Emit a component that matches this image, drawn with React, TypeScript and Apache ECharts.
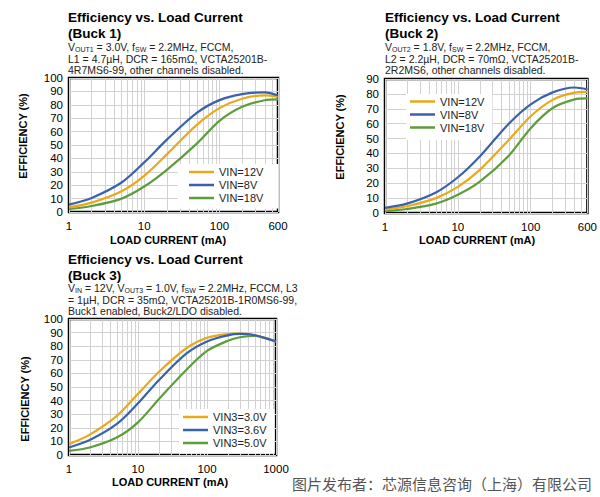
import React, { useEffect, useRef } from 'react';
import * as echarts from 'echarts';

const FONT = '"Liberation Sans", Arial, Helvetica, sans-serif';
const YELLOW = '#E9A91B';
const BLUE = '#3A62AC';
const GREEN = '#5C9D3C';
const GRID = '#d2d2d2';

// Buck 1
const buck1Load = [1, 2, 5, 10, 20, 50, 100, 200, 400, 600];
const buck1Vin12 = [3.5, 7, 15.5, 27, 43, 65, 77.5, 84.5, 87, 86];
const buck1Vin8 = [5.5, 10.5, 22, 37, 54, 74, 83.5, 88, 89.3, 87];
const buck1Vin18 = [2.3, 4.5, 10, 19, 31.5, 51, 68, 78.5, 83.4, 84];

// Buck 2
const buck2Load = [1, 2, 5, 10, 20, 50, 100, 200, 400, 600];
const buck2Vin12 = [2.2, 4.5, 10, 17.5, 29, 49, 65, 76, 80.8, 81.3];
const buck2Vin8 = [3.5, 6.3, 13.8, 24, 38, 60, 73, 81, 84.3, 83];
const buck2Vin18 = [1.2, 2.7, 6.3, 12.2, 21, 38.5, 57, 70.5, 76.3, 77];

// Buck 3
const buck3Load = [1, 2, 5, 10, 20, 50, 100, 200, 300, 500, 1000];
const buck3Vin30 = [8, 15, 29, 45, 61, 78.5, 86.2, 88.9, 89.2, 88, 83.5];
const buck3Vin36 = [5.5, 11, 23, 38, 55, 74.5, 83.5, 88, 89, 88, 83.5];
const buck3Vin50 = [3, 5.5, 13, 24, 41, 62.5, 76.5, 84, 86.6, 87.5, 83.5];

const legendBuck12 = ['VIN=12V', 'VIN=8V', 'VIN=18V'];
const legendBuck3 = ['VIN3=3.0V', 'VIN3=3.6V', 'VIN3=5.0V'];

// minor log grid positions
const minorGrid600 = [2, 3, 4, 5, 6, 7, 8, 9, 20, 30, 40, 50, 60, 70, 80, 90, 200, 300, 400, 500];
const minorGrid1000 = [2, 3, 4, 5, 6, 7, 8, 9, 20, 30, 40, 50, 60, 70, 80, 90, 200, 300, 400, 500, 600, 700, 800, 900];

const pairs = (xs: number[], ys: number[]) => xs.map((x, i) => [x, ys[i]]);

function curve(name: string, color: string, idx: number, xs: number[], ys: number[]) {
  return {
    type: 'line',
    name,
    xAxisIndex: idx,
    yAxisIndex: idx,
    data: pairs(xs, ys),
    smooth: 0.3,
    symbol: 'none',
    z: 3,
    lineStyle: { color, width: 2.2 },
    itemStyle: { color },
  };
}

function gridSeries(idx: number, vals: number[]) {
  return {
    type: 'line',
    name: 'grid' + idx,
    xAxisIndex: idx,
    yAxisIndex: idx,
    data: [],
    z: 1,
    silent: true,
    markLine: {
      silent: true,
      z: 1,
      symbol: ['none', 'none'],
      label: { show: false },
      lineStyle: { color: GRID, width: 1, type: 'solid' },
      emphasis: { disabled: true },
      data: vals.map((v) => ({ xAxis: v })),
    },
  };
}

function xAxis(idx: number, max: number) {
  return {
    type: 'log',
    logBase: 10,
    gridIndex: idx,
    min: 1,
    max,
    axisLine: { show: false },
    axisTick: { show: false },
    axisLabel: {
      color: '#000',
      fontSize: 11.5,
      fontFamily: FONT,
      margin: 8,
      formatter: (v: number) => String(Math.round(v)),
    },
    splitLine: { show: true, lineStyle: { color: GRID, width: 1 } },
  };
}

function yAxis(idx: number, max: number) {
  return {
    type: 'value',
    gridIndex: idx,
    min: 0,
    max,
    interval: 10,
    axisLine: { show: false },
    axisTick: { show: false },
    axisLabel: { color: '#000', fontSize: 11.5, fontFamily: FONT, margin: 6 },
    splitLine: { show: true, lineStyle: { color: GRID, width: 1 } },
  };
}

function legend(data: string[], left: number, top: number, padding: number[]) {
  return {
    data,
    orient: 'vertical',
    left,
    top,
    padding,
    itemGap: 0,
    itemWidth: 25,
    itemHeight: 2.5,
    icon: 'rect',
    selectedMode: false,
    z: 10,
    backgroundColor: '#fff',
    textStyle: { fontSize: 11, color: '#222', fontFamily: FONT, lineHeight: 13 },
  };
}

const SUB = { fontSize: 7, lineHeight: 6, verticalAlign: 'bottom', fontFamily: FONT, fill: '#222' };

function titleText(x: number, y: number, text: string) {
  return {
    type: 'text',
    x,
    y,
    style: {
      text,
      fontSize: 13.5,
      fontWeight: 'bold',
      fontFamily: FONT,
      fill: '#000',
      lineHeight: 16,
      align: 'left',
      verticalAlign: 'top',
    },
  };
}

function subText(x: number, y: number, text: string) {
  return {
    type: 'text',
    x,
    y,
    style: {
      text,
      fontSize: 10.5,
      fontFamily: FONT,
      fill: '#222',
      lineHeight: 11.5,
      align: 'left',
      verticalAlign: 'top',
      rich: { s: SUB },
    },
  };
}

function yName(x: number, y: number) {
  return {
    type: 'text',
    x,
    y,
    rotation: Math.PI / 2,
    style: {
      text: 'EFFICIENCY (%)',
      fontSize: 11,
      fontWeight: 'bold',
      fontFamily: FONT,
      fill: '#000',
      align: 'center',
      verticalAlign: 'middle',
    },
  };
}

function xName(x: number, y: number) {
  return {
    type: 'text',
    x,
    y,
    style: {
      text: 'LOAD CURRENT (mA)',
      fontSize: 11,
      fontWeight: 'bold',
      fontFamily: FONT,
      fill: '#000',
      align: 'center',
      verticalAlign: 'middle',
    },
  };
}

export default function App() {
  const ref = useRef<HTMLDivElement>(null);
  useEffect(() => {
    document.body.style.margin = '0';
    if (!ref.current) return;
    const chart = echarts.init(ref.current, undefined, { renderer: 'svg' });
    const gridBase = { show: true, borderColor: '#000', borderWidth: 2.5, backgroundColor: 'transparent', containLabel: false };
    chart.setOption({
      animation: false,
      backgroundColor: '#fff',
      grid: [
        { ...gridBase, left: 69, top: 78, width: 209, height: 134 },
        { ...gridBase, left: 385, top: 79, width: 208, height: 134 },
        { ...gridBase, left: 69, top: 319, width: 207, height: 136 },
      ],
      xAxis: [xAxis(0, 600), xAxis(1, 600), xAxis(2, 1000)],
      yAxis: [yAxis(0, 100), yAxis(1, 90), yAxis(2, 100)],
      legend: [
        legend(legendBuck12, 178, 164, [1.5, 15, 4, 11]),
        legend(legendBuck12, 406, 94, [1, 8, 6, 4]),
        legend(legendBuck3, 179, 409, [1.5, 8, 4, 4]),
      ],
      series: [
        gridSeries(0, minorGrid600),
        gridSeries(1, minorGrid600),
        gridSeries(2, minorGrid1000),
        curve('VIN=18V', GREEN, 0, buck1Load, buck1Vin18),
        curve('VIN=12V', YELLOW, 0, buck1Load, buck1Vin12),
        curve('VIN=8V', BLUE, 0, buck1Load, buck1Vin8),
        curve('VIN=18V', GREEN, 1, buck2Load, buck2Vin18),
        curve('VIN=12V', YELLOW, 1, buck2Load, buck2Vin12),
        curve('VIN=8V', BLUE, 1, buck2Load, buck2Vin8),
        curve('VIN3=5.0V', GREEN, 2, buck3Load, buck3Vin50),
        curve('VIN3=3.0V', YELLOW, 2, buck3Load, buck3Vin30),
        curve('VIN3=3.6V', BLUE, 2, buck3Load, buck3Vin36),
      ],
      graphic: [
        titleText(68, 9, 'Efficiency vs. Load Current\n(Buck 1)'),
        subText(68, 41.5, 'V{s|OUT1} = 3.0V, f{s|SW} = 2.2MHz, FCCM,\nL1 = 4.7µH, DCR = 165mΩ, VCTA25201B-\n4R7MS6-99, other channels disabled.'),
        titleText(385, 9, 'Efficiency vs. Load Current\n(Buck 2)'),
        subText(385, 41.5, 'V{s|OUT2} = 1.8V, f{s|SW} = 2.2MHz, FCCM,\nL2 = 2.2µH, DCR = 70mΩ, VCTA25201B-\n2R2MS6, other channels disabled.'),
        titleText(68, 251, 'Efficiency vs. Load Current\n(Buck 3)'),
        subText(68, 282.5, 'V{s|IN} = 12V, V{s|OUT3} = 1.0V, f{s|SW} = 2.2MHz, FCCM, L3\n= 1µH, DCR = 35mΩ, VCTA25201B-1R0MS6-99,\nBuck1 enabled, Buck2/LDO disabled.'),
        yName(23, 136),
        yName(340, 137),
        yName(25, 399),
        xName(168, 240),
        xName(477, 240),
        xName(170, 482),
        {
          type: 'text',
          x: 292,
          y: 483,
          style: {
            text: '图片发布者：芯源信息咨询（上海）有限公司',
            fontSize: 15,
            fontFamily: '"Noto Sans CJK SC", sans-serif',
            fill: '#555',
            align: 'left',
            verticalAlign: 'middle',
          },
        },
      ],
    });
    return () => chart.dispose();
  }, []);
  return <div ref={ref} style={{ width: 600, height: 497 }} />;
}
